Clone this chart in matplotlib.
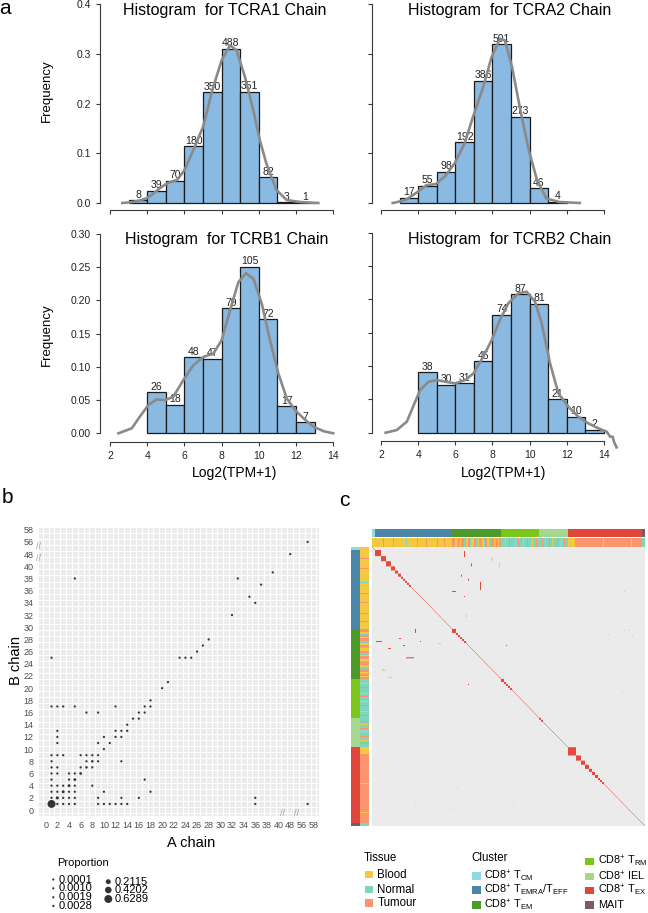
import numpy as np
import matplotlib
matplotlib.use('Agg')
import matplotlib.pyplot as plt
from matplotlib.colors import ListedColormap
from matplotlib.patches import Rectangle

plt.rcParams['font.family'] = ['Liberation Sans', 'DejaVu Sans']
plt.rcParams['mathtext.fontset'] = 'custom'
plt.rcParams['mathtext.rm'] = 'Liberation Sans'
plt.rcParams['mathtext.it'] = 'Liberation Sans:italic'
plt.rcParams['mathtext.bf'] = 'Liberation Sans:bold'

# ------------------------------------------------------------------ data
# panel a : histograms (counts per unit bin of Log2(TPM+1))
tcra1_start = 3
tcra1_counts = [8, 39, 70, 180, 350, 488, 351, 82, 3, 1]
tcra2_start = 3
tcra2_counts = [17, 55, 98, 192, 386, 501, 273, 46, 4]
tcrb1_start = 4
tcrb1_counts = [26, 18, 48, 47, 79, 105, 72, 17, 7]
tcrb2_start = 4
tcrb2_counts = [38, 30, 31, 45, 74, 87, 81, 21, 10, 2]

# density curves
tcra1_dx = [2.66, 3.2, 3.6, 3.95, 4.3, 4.65, 5.0, 5.3, 5.6, 6.0, 6.45, 7.0, 7.5, 8.0, 8.45,
            8.8, 9.25, 9.7, 10.05, 10.4, 10.95, 11.5, 12.2, 13.2]
tcra1_dy = [0.0, 0.002, 0.005, 0.0094, 0.018, 0.029, 0.038, 0.043, 0.046, 0.066, 0.104, 0.153,
            0.227, 0.287, 0.317, 0.307, 0.254, 0.187, 0.127, 0.080, 0.026, 0.006, 0.002, 0.0]
tcra2_dx = [2.63, 3.0, 3.38, 4.0, 4.45, 4.95, 5.43, 5.97, 6.5, 6.95, 7.5, 7.95, 8.4, 8.67,
            9.05, 9.5, 9.95, 10.4, 10.9, 11.6, 12.7]
tcra2_dy = [0.0, 0.003, 0.0073, 0.023, 0.036, 0.038, 0.053, 0.080, 0.120, 0.173, 0.233, 0.293,
            0.330, 0.327, 0.274, 0.187, 0.107, 0.046, 0.009, 0.002, 0.0]
tcrb1_dx = [2.45, 3.17, 3.6, 4.06, 4.5, 4.96, 5.4, 5.94, 6.48, 7.02, 7.55, 8.0, 8.45, 8.9,
            9.31, 9.71, 10.16, 10.6, 11.05, 11.5, 11.95, 12.4, 12.93, 13.5, 14.0]
tcrb1_dy = [0.0, 0.0075, 0.025, 0.0425, 0.051, 0.050, 0.055, 0.080, 0.1025, 0.115, 0.120, 0.140,
            0.185, 0.2275, 0.241, 0.2325, 0.195, 0.140, 0.090, 0.0525, 0.035, 0.0225, 0.010,
            0.003, 0.0]
tcrb2_dx = [2.25, 2.85, 3.39, 3.84, 4.11, 4.56, 5.0, 5.45, 5.99, 6.53, 6.98, 7.5, 7.96, 8.4,
            8.85, 9.39, 9.84, 10.29, 10.65, 11.1, 11.55, 12.08, 12.62, 13.16, 13.7, 14.15,
            14.24, 14.33, 14.47, 14.54, 14.68]
tcrb2_dy = [0.0, 0.004, 0.0165, 0.0465, 0.064, 0.0765, 0.079, 0.0765, 0.074, 0.079, 0.089,
            0.114, 0.139, 0.169, 0.194, 0.209, 0.2115, 0.1965, 0.164, 0.104, 0.059, 0.039,
            0.024, 0.014, 0.0065, 0.0015, -0.002, -0.006, -0.006, -0.0135, -0.022]

# panel b : A chain / B chain counts with proportion
b_x = [57, 48, 39, 5, 33, 37, 35, 36, 32, 28, 27, 26, 1, 23, 24, 25, 21, 20, 18,
       1, 2, 3, 5, 12, 17, 18, 7, 9, 16, 17, 15, 16, 14, 2, 12, 13, 14,
       2, 10, 12, 13, 2, 9, 11, 10,
       1, 2, 3, 6, 7, 8, 9, 1, 7, 8, 9, 13, 1, 2, 6, 7, 8, 1, 2, 4, 5, 6,
       1, 4, 5, 17, 1, 2, 3, 4, 5, 8, 1, 2, 3, 4, 5, 10, 18,
       1, 2, 3, 4, 5, 9, 13, 16, 36,
       1, 2, 3, 4, 5, 9, 10, 11, 12, 13, 14, 36, 57]
b_y = [56, 48, 39, 38, 38, 37, 35, 34, 32, 28, 27, 26, 25, 25, 25, 25, 21, 20, 18,
       17, 17, 17, 17, 17, 17, 17, 16, 16, 16, 16, 15, 15, 14, 13, 13, 13, 13,
       12, 12, 12, 12, 11, 11, 11, 10,
       9, 9, 9, 9, 9, 9, 9, 8, 8, 8, 8, 8, 7, 7, 7, 7, 7, 6, 6, 6, 6, 6,
       5, 5, 5, 5, 4, 4, 4, 4, 4, 4, 3, 3, 3, 3, 3, 3, 3,
       2, 2, 2, 2, 2, 2, 2, 2, 2,
       1, 1, 1, 1, 1, 1, 1, 1, 1, 1, 1, 1, 1]
b_big = {(1, 1): 0.6289, (2, 2): 0.05, (3, 3): 0.04, (4, 4): 0.035, (5, 5): 0.03,
         (6, 6): 0.025, (7, 7): 0.015, (8, 8): 0.015}
b_tick_vals = list(range(0, 41, 2)) + [48, 56, 58]
legend_props_left = [0.0001, 0.0010, 0.0019, 0.0028]
legend_props_right = [0.2115, 0.4202, 0.6289]

# panel c : clone sharing heatmap
cluster_names = ['CM', 'EMRA', 'EM', 'RM', 'IEL', 'EX', 'MAIT']
cluster_sizes = [3, 77, 49, 38, 29, 74, 3]
tissue_names = ['Blood', 'Normal', 'Tumour']
tissue_runs = [  # (tissue index, run length) in cell order
    (0, 3),
    (0, 8), (2, 1), (0, 9), (2, 1), (0, 12), (1, 1), (0, 10), (2, 1), (0, 8), (2, 1),
    (0, 10), (2, 1), (0, 6), (2, 1), (0, 7),
    (2, 3), (0, 2), (1, 1), (2, 2), (0, 1), (2, 3), (1, 2), (0, 2), (2, 2), (1, 1), (0, 3),
    (2, 2), (1, 2), (0, 1), (2, 3), (0, 2), (1, 1), (2, 2), (0, 2), (1, 2), (2, 3), (0, 1),
    (1, 1), (2, 2), (0, 1), (2, 2),
    (1, 4), (0, 1), (1, 3), (2, 1), (1, 5), (0, 1), (1, 2), (2, 1), (1, 4), (0, 1), (1, 3),
    (2, 1), (1, 4), (0, 1), (1, 3), (2, 1), (1, 2),
    (1, 3), (2, 1), (1, 2), (0, 1), (1, 3), (2, 1), (1, 2), (0, 1), (1, 4), (2, 1), (1, 3),
    (0, 1), (1, 2), (2, 1), (1, 3),
    (0, 7), (2, 28), (0, 1), (2, 27), (0, 1), (2, 10),
    (1, 3)]
clone_sizes = {'EMRA': [6, 5, 5, 4, 3, 3, 2, 2, 2, 2, 2],
               'EM': [4, 2, 2, 2, 2, 2],
               'RM': [3, 2, 2, 2, 2],
               'IEL': [2, 2],
               'EX': [8, 5, 4, 4, 3, 3, 3, 2, 2, 2]}
mark_r0 = [4, 16, 27, 31, 34, 43, 48, 10, 16, 96, 85, 81, 141, 119, 252, 252, 260, 66]
mark_r1 = [10, 19, 29, 33, 42, 44, 49, 14, 20, 97, 86, 82, 142, 120, 253, 253, 261, 69]
mark_c0 = [92, 99, 89, 96, 108, 80, 92, 120, 127, 134, 236, 256, 250, 11, 43, 81, 86, 94]
mark_c1 = [93, 100, 90, 97, 109, 84, 93, 121, 128, 135, 237, 257, 251, 12, 44, 82, 87, 95]
mark_v = [3, 3, 3, 3, 3, 3, 3, 1, 1, 3, 1, 1, 1, 1, 1, 1, 1, 1]

# ------------------------------------------------------------------ figure
W, H = 648, 913
fig = plt.figure(figsize=(W / 100, H / 100), dpi=100)


def add_ax_px(x0, x1, y0, y1):
    return fig.add_axes([x0 / W, 1 - y1 / H, (x1 - x0) / W, (y1 - y0) / H])


def ftxt(x, y, s, **kw):
    return fig.text(x / W, 1 - y / H, s, **kw)


BAR = '#8AB9E1'
AXC = '#3a3a3a'


def hist_panel(ax, start, counts, dx, dy, ylim, yticks, ylabels, xlabels):
    counts = np.array(counts)
    freq = counts / counts.sum()
    lefts = start + np.arange(len(counts))
    ax.bar(lefts, freq, width=1, align='edge', color=BAR, edgecolor='#1a1a1a',
           linewidth=0.9, zorder=2)
    for x, f, c in zip(lefts, freq, counts):
        ax.annotate(str(c), (x + 0.5, f), xytext=(0, 1.8), textcoords='offset points',
                    ha='center', va='baseline', fontsize=7.5, color='#222222', zorder=3)
    ax.plot(dx, dy, color='#8a8a8a', lw=1.9, zorder=4, clip_on=False)
    ax.set_ylim(*ylim)
    for s in ['top', 'right']:
        ax.spines[s].set_visible(False)
    ax.spines['left'].set_bounds(0, yticks[-1])
    ax.spines['bottom'].set_bounds(2, 14)
    for s in ['left', 'bottom']:
        ax.spines[s].set_color(AXC)
        ax.spines[s].set_linewidth(0.8)
    ax.set_xticks(range(2, 15, 2))
    ax.set_yticks(yticks)
    ax.tick_params(direction='out', length=3, width=0.8, color=AXC, labelsize=7.5,
                   labelcolor='#222222', pad=3.5)
    if ylabels is None:
        ax.set_yticklabels([])
    else:
        ax.set_yticklabels(ylabels)
    if not xlabels:
        ax.set_xticklabels([])
    ax.patch.set_visible(False)


# top-left
ax1 = add_ax_px(100, 348.1, 4, 210)
ax1.set_xlim(1.46, 14.8)
hist_panel(ax1, tcra1_start, tcra1_counts, tcra1_dx, tcra1_dy, (-0.01407, 0.4),
           [0.0, 0.1, 0.2, 0.3, 0.4], ['0.0', '0.1', '0.2', '0.3', '0.4'], False)
# top-right
ax2 = add_ax_px(372, 631.8, 4, 210)
ax2.set_xlim(1.516, 15.5)
hist_panel(ax2, tcra2_start, tcra2_counts, tcra2_dx, tcra2_dy, (-0.01407, 0.4),
           [0.0, 0.1, 0.2, 0.3, 0.4], None, False)
# bottom-left
ax3 = add_ax_px(100, 348.1, 234, 441.7)
ax3.set_xlim(1.46, 14.8)
hist_panel(ax3, tcrb1_start, tcrb1_counts, tcrb1_dx, tcrb1_dy, (-0.01265, 0.30),
           [0.0, 0.05, 0.10, 0.15, 0.20, 0.25, 0.30],
           ['0.00', '0.05', '0.10', '0.15', '0.20', '0.25', '0.30'], True)
# bottom-right
ax4 = add_ax_px(372, 631.8, 232.7, 440.7)
ax4.set_xlim(1.516, 15.5)
hist_panel(ax4, tcrb2_start, tcrb2_counts, tcrb2_dx, tcrb2_dy, (-0.012, 0.30),
           [0.0, 0.05, 0.10, 0.15, 0.20, 0.25, 0.30], None, True)

TFS = 11.5
ftxt(225, 15, 'Histogram  for TCRA1 Chain', ha='center', va='baseline', fontsize=TFS)
ftxt(509.5, 15, 'Histogram  for TCRA2 Chain', ha='center', va='baseline', fontsize=TFS)
ftxt(227, 244, 'Histogram  for TCRB1 Chain', ha='center', va='baseline', fontsize=TFS)
ftxt(509.5, 244, 'Histogram  for TCRB2 Chain', ha='center', va='baseline', fontsize=TFS)
ftxt(47, 91, 'Frequency', rotation=90, ha='center', va='center', fontsize=9.5)
ftxt(47, 335, 'Frequency', rotation=90, ha='center', va='center', fontsize=9.5)
ftxt(235, 473, 'Log2(TPM+1)', ha='center', va='center', fontsize=10)
ftxt(504, 473, 'Log2(TPM+1)', ha='center', va='center', fontsize=10)

ftxt(5, 9, 'a', ha='center', va='center', fontsize=15)
ftxt(7, 497, 'b', ha='center', va='center', fontsize=15)
ftxt(344, 500, 'c', ha='center', va='center', fontsize=15)

# ------------------------------------------------------------------ panel b
brk_v = [0, 40, 48, 56, 58]
brk_p = [0, 40, 42, 44, 46]


def pos(v):
    return np.interp(v, brk_v, brk_p)


axb = add_ax_px(39.3, 319.3, 526.7, 815.7)
axb.set_facecolor('#EBEBEB')
axb.set_xlim(-1.1, 47.0)
axb.set_ylim(-0.93, 46.25)
axb.set_xticks(np.arange(-0.5, 47.5, 1), minor=True)
axb.set_yticks(np.arange(-0.5, 47.5, 1), minor=True)
axb.grid(which='minor', color='white', lw=0.8)
axb.grid(which='major', visible=False)
axb.set_axisbelow(True)
tp = pos(np.array(b_tick_vals))
axb.set_xticks(tp)
axb.set_xticklabels([str(v) for v in b_tick_vals])
axb.set_yticks(tp)
axb.set_yticklabels([str(v) for v in b_tick_vals])
axb.tick_params(which='both', length=0, labelsize=6.5, labelcolor='#4D4D4D', pad=4)
for s in axb.spines.values():
    s.set_visible(False)


def psize(p):
    return 2.5 + 48 * np.asarray(p)


props = [b_big.get((x, y), 0.0003) for x, y in zip(b_x, b_y)]
axb.scatter(pos(np.array(b_x)), pos(np.array(b_y)), s=psize(props), color='#333333',
            linewidths=0, zorder=3)

ftxt(190.7, 843, 'A chain', ha='center', va='center', fontsize=10.5)
ftxt(15.5, 660, 'B chain', ha='center', va='center', rotation=90, fontsize=10.5)
for (x, y) in [(38.5, 546), (38.5, 558.5)]:
    ftxt(x, y, '//', ha='center', va='center', fontsize=6.5, color='#A0A0A0')
for (x, y) in [(282, 813), (296, 813)]:
    ftxt(x, y, '//', ha='center', va='center', fontsize=6.5, color='#A0A0A0')

# overlay axes in pixel coordinates for legends
ov = fig.add_axes([0, 0, 1, 1])
ov.set_xlim(0, W)
ov.set_ylim(H, 0)
ov.axis('off')
ov.set_zorder(10)

ftxt(56.7, 863.3, 'Proportion', ha='left', va='center', fontsize=8)
left_rows = [879.5, 888.3, 897.3, 906]
right_rows = [881.7, 890, 899]
ov.scatter([53.3] * 4, left_rows, s=psize(legend_props_left), color='#333333', linewidths=0)
ov.scatter([108.3] * 3, right_rows, s=psize(legend_props_right), color='#333333', linewidths=0)
for yv, p in zip(left_rows, legend_props_left):
    ftxt(58.3, yv, f'{p:.4f}', ha='left', va='center', fontsize=8)
for yv, p in zip(right_rows, legend_props_right):
    ftxt(114.5, yv, f'{p:.4f}', ha='left', va='center', fontsize=8)

# ------------------------------------------------------------------ panel c
cluster_colors = ['#8FD9E3', '#4B86A8', '#4C9A2A', '#7DC51B', '#A5D88F', '#E0463B', '#7D5A69']
tissue_colors = ['#F5C842', '#7DD5BE', '#FD9470']

N = sum(cluster_sizes)
cl = np.repeat(np.arange(len(cluster_sizes)), cluster_sizes)
ts = np.concatenate([np.full(n, t) for t, n in tissue_runs])

# 0 = none, 1 = weak share, 2 = self (diagonal), 3 = shared clone
M = np.zeros((N, N))
M[np.arange(N), np.arange(N)] = 2
starts = np.concatenate([[0], np.cumsum(cluster_sizes)[:-1]])
for name, sizes in clone_sizes.items():
    s0 = starts[cluster_names.index(name)]
    for sz in sizes:
        if sz > 1:
            M[s0:s0 + sz, s0:s0 + sz] = 3
        s0 += sz
for r0, r1, c0, c1, v in zip(mark_r0, mark_r1, mark_c0, mark_c1, mark_v):
    M[r0:r1, c0:c1] = np.maximum(M[r0:r1, c0:c1], v)
    M[c0:c1, r0:r1] = np.maximum(M[c0:c1, r0:r1], v)

hm_cmap = ListedColormap(['#EBEBEB', '#D9C9C9', '#EE8A80', '#E5493C'])
cl_cmap = ListedColormap(cluster_colors)
ts_cmap = ListedColormap(tissue_colors)

axh = add_ax_px(372.3, 645, 547.3, 826)
axh.imshow(M, cmap=hm_cmap, vmin=-0.5, vmax=3.5, aspect='auto', interpolation='antialiased',
           interpolation_stage='rgba', extent=(0, N, N, 0))
axh.axis('off')

axtc = add_ax_px(372.3, 645, 529, 537.3)
axtc.imshow(cl[None, :], cmap=cl_cmap, vmin=-0.5, vmax=6.5, aspect='auto',
            interpolation='nearest')
axtc.axis('off')
axtt = add_ax_px(372.3, 645, 538, 546.7)
axtt.imshow(ts[None, :], cmap=ts_cmap, vmin=-0.5, vmax=2.5, aspect='auto',
            interpolation='nearest')
axtt.axis('off')
axlc = add_ax_px(351, 359.3, 547.3, 826)
axlc.imshow(cl[:, None], cmap=cl_cmap, vmin=-0.5, vmax=6.5, aspect='auto',
            interpolation='nearest')
axlc.axis('off')
axlt = add_ax_px(360.3, 369.3, 547.3, 826)
axlt.imshow(ts[:, None], cmap=ts_cmap, vmin=-0.5, vmax=2.5, aspect='auto',
            interpolation='nearest')
axlt.axis('off')

LFS = 8.3
CFS = 7.8
tissue_labels = ['Blood', 'Normal', 'Tumour']
cluster_labels = [r'CD8$^{+}$ T$_{\mathrm{CM}}$',
                  r'CD8$^{+}$ T$_{\mathrm{EMRA}}$/T$_{\mathrm{EFF}}$',
                  r'CD8$^{+}$ T$_{\mathrm{EM}}$',
                  r'CD8$^{+}$ T$_{\mathrm{RM}}$',
                  r'CD8$^{+}$ IEL',
                  r'CD8$^{+}$ T$_{\mathrm{EX}}$',
                  'MAIT']

ftxt(364, 858.3, 'Tissue', ha='left', va='center', fontsize=LFS)
for yv, lab, col in zip([874.7, 889.7, 903], tissue_labels, tissue_colors):
    ov.add_patch(Rectangle((365, yv - 3.7), 8.3, 7.4, color=col, lw=0))
    ftxt(377.3, yv, lab, ha='left', va='center', fontsize=LFS)

ftxt(471.7, 858, 'Cluster', ha='left', va='center', fontsize=LFS)
col_x = [471.7, 471.7, 471.7, 585, 585, 585, 585]
col_tx = [484, 484, 484, 598.3, 598.3, 598.3, 598.3]
col_y = [876, 890, 905, 861.7, 876.7, 890.7, 905]
for x, tx, yv, lab, col in zip(col_x, col_tx, col_y, cluster_labels, cluster_colors):
    ov.add_patch(Rectangle((x, yv - 3.7), 9, 7.4, color=col, lw=0))
    ftxt(tx, yv, lab, ha='left', va='center', fontsize=CFS)

fig.savefig('out.png', dpi=100)
